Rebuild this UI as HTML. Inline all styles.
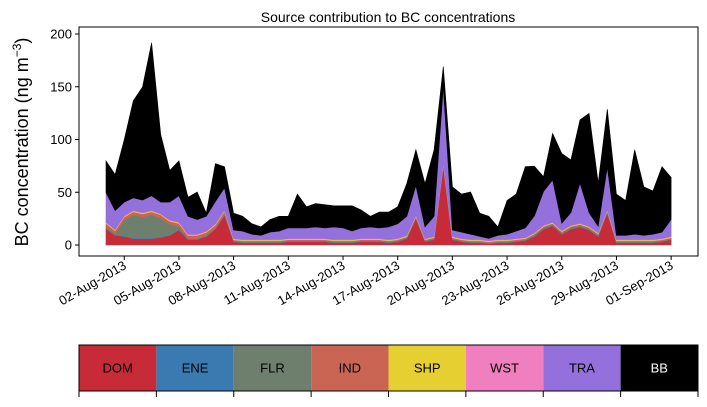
<!DOCTYPE html>
<html><head><meta charset="utf-8"><style>
body{margin:0;background:#fff;}
svg text{font-family:"Liberation Sans",sans-serif;}
</style></head><body>
<svg id="chart" width="707" height="402" xmlns="http://www.w3.org/2000/svg">
<text x="388" y="22" font-size="14" text-anchor="middle">Source contribution to BC concentrations</text>
<text transform="translate(28,142) rotate(-90)" font-size="18" text-anchor="middle">BC concentration (ng m<tspan dy="-7" font-size="12">−3</tspan><tspan dy="7">)</tspan></text>
<g id="areas"></g>
<rect x="79" y="27" width="619" height="229" fill="none" stroke="#000" stroke-width="1"/>
<g id="axes"></g>
<g id="legend"></g>
</svg>
<script>
const categories = ["DOM","ENE","FLR","IND","SHP","WST","TRA","BB"];
const colors = ["#c72b38","#3a7ab0","#6e7f6e","#c96552","#e6cf30","#f07fbf","#9370db","#000000"];
const dom = [15,9,8,6,6,6,7,9,14,5,5,8,15,28,3,2,2,2,2,2,3,3,3,3,3,2,2,2,3,3,3,2,3,6,25,3,5,75,5,3,2,2,1,2,2,3,4,8,15,18,10,15,17,14,8,30,2,2,2,2,2,3,5];
const ene = [0.5,0.5,0.5,0.5,0.5,0.5,0.5,0.5,0.5,0.5,0.5,0.5,0.5,0.5,0.5,0.5,0.5,0.5,0.5,0.5,0.5,0.5,0.5,0.5,0.5,0.5,0.5,0.5,0.5,0.5,0.5,0.5,0.5,0.5,0.5,0.5,0.5,0.5,0.5,0.5,0.5,0.5,0.5,0.5,0.5,0.5,0.5,0.5,0.5,0.5,0.5,0.5,0.5,0.5,0.5,0.5,0.5,0.5,0.5,0.5,0.5,0.5,0.5];
const flr = [2,1,15,22,20,22,18,10,3,0.5,0.5,0.5,0.5,0.5,0.5,0.5,0.5,0.5,0.5,0.5,0.5,0.5,0.5,0.5,0.5,0.5,0.5,0.5,0.5,0.5,0.5,0.5,0.5,0.5,0.5,0.5,0.5,0.5,0.5,0.5,0.5,0.5,0.5,0.5,0.5,0.5,0.5,1,1,1,1,1,1,1,1,1,0.5,0.5,0.5,0.5,0.5,0.5,0.5];
const ind = [3,3,3,3,3,3,3,3,3,3,3,3,3,3,1,1,1,1,1,1,1,1,1,1,1,1,1,1,1,1,1,1,1,1,1,1,1,1,1,1,1,1,1,1,1,1,1,1,1,1,1,1,1,1,1,1,1,1,1,1,1,1,1];
const shp = [0.7,0.7,0.7,0.7,0.7,0.7,0.7,0.7,0.7,0.7,0.7,0.7,0.7,0.7,0.7,0.7,0.7,0.7,0.7,0.7,0.7,0.7,0.7,0.7,0.7,0.7,0.7,0.7,0.7,0.7,0.7,0.7,0.7,0.7,0.7,0.7,0.7,0.7,0.7,0.7,0.7,0.7,0.7,0.7,0.7,0.7,0.7,0.7,0.7,0.7,0.7,0.7,0.7,0.7,0.7,0.7,0.7,0.7,0.7,0.7,0.7,0.7,0.7];
const wst = [0.5,0.5,0.5,0.5,0.5,0.5,0.5,0.5,0.5,0.5,0.5,0.5,0.5,0.5,0.5,0.5,0.5,0.5,0.5,0.5,0.5,0.5,0.5,0.5,0.5,0.5,0.5,0.5,0.5,0.5,0.5,0.5,0.5,0.5,0.5,0.5,0.5,0.5,0.5,0.5,0.5,0.5,0.5,0.5,0.5,0.5,0.5,0.5,0.5,0.5,0.5,0.5,0.5,0.5,0.5,0.5,0.5,0.5,0.5,0.5,0.5,0.5,0.5];
const tra = [28,18,13,12,12,14,11,17,25,17,14,14,21,21,8,8,5,4,7,8,10,10,10,11,10,12,11,8,10,11,10,12,14,18,28,11,19,72,6,6,5,3,2,4,5,7,9,16,32,40,7,12,38,13,6,40,4,4,5,4,5,6,16];
const bb = [30,34,59,92,107,145,64,30,33,18,26,3,36,20,16,14,10,8,12,14,11,32,20,22,22,20,21,24,17,10,15,14,16,31,34,41,63,19,41,36,40,22,21,8,32,35,58,47,14,44,66,50,60,94,41,55,39,33,80,46,41,62,40];
const yTicks = [0,50,100,150,200];
const xTickDays = [1,4,7,10,13,16,19,22,25,28,31];
const xTickLabels = ["02-Aug-2013","05-Aug-2013","08-Aug-2013","11-Aug-2013","14-Aug-2013","17-Aug-2013","20-Aug-2013","23-Aug-2013","26-Aug-2013","29-Aug-2013","01-Sep-2013"];
const stepDays = 0.5;

const NS="http://www.w3.org/2000/svg";
function xScale(day){return 106 + day*18.23;}
function yScale(v){return 245 - v*1.055;}
const series=[dom,ene,flr,ind,shp,wst,tra,bb];
const areas=document.getElementById('areas');
let base=dom.map(()=>0);
series.forEach((s,si)=>{
  const top=base.map((b,i)=>b+s[i]);
  let d="";
  top.forEach((v,i)=>{d+=(i?"L":"M")+xScale(i*stepDays).toFixed(1)+","+yScale(v).toFixed(1);});
  for(let i=base.length-1;i>=0;i--){d+="L"+xScale(i*stepDays).toFixed(1)+","+yScale(base[i]).toFixed(1);}
  d+="Z";
  const p=document.createElementNS(NS,'path');
  p.setAttribute('d',d);p.setAttribute('fill',colors[si]);
  p.setAttribute('stroke',colors[si]);p.setAttribute('stroke-width','0.6');
  
  
  areas.appendChild(p);
  base=top;
});
const axes=document.getElementById('axes');
yTicks.forEach(t=>{
  const y=yScale(t);
  const l=document.createElementNS(NS,'line');
  l.setAttribute('x1',75);l.setAttribute('x2',79);l.setAttribute('y1',y);l.setAttribute('y2',y);l.setAttribute('stroke','#000');
  
  
  axes.appendChild(l);
  const tx=document.createElementNS(NS,'text');
  tx.setAttribute('x',72);tx.setAttribute('y',y+4.5);tx.setAttribute('text-anchor','end');tx.setAttribute('font-size','13');
  tx.textContent=t;
  
  
  axes.appendChild(tx);
});
xTickDays.forEach((dday,i)=>{
  const x=xScale(dday);
  const l=document.createElementNS(NS,'line');
  l.setAttribute('x1',x);l.setAttribute('x2',x);l.setAttribute('y1',256);l.setAttribute('y2',260);l.setAttribute('stroke','#000');
  
  
  axes.appendChild(l);
  const tx=document.createElementNS(NS,'text');
  tx.setAttribute('transform','translate('+(x+3)+',268) rotate(-30)');
  tx.setAttribute('text-anchor','end');tx.setAttribute('font-size','13');
  tx.textContent=xTickLabels[i];
  
  
  axes.appendChild(tx);
});
const legend=document.getElementById('legend');
const lw=619/8;
categories.forEach((c,i)=>{
  const x=79+i*lw;
  const r=document.createElementNS(NS,'rect');
  r.setAttribute('x',x);r.setAttribute('y',345);r.setAttribute('width',lw);r.setAttribute('height',46);r.setAttribute('fill',colors[i]);
  
  
  legend.appendChild(r);
  const tx=document.createElementNS(NS,'text');
  tx.setAttribute('x',x+lw/2);tx.setAttribute('y',372.5);tx.setAttribute('text-anchor','middle');tx.setAttribute('font-size','13');
  tx.setAttribute('fill',c==="BB"?"#fff":"#000");
  tx.textContent=c;
  
  
  legend.appendChild(tx);
});
for(let i=0;i<=8;i++){
  const x=79+i*lw;
  const l=document.createElementNS(NS,'line');
  l.setAttribute('x1',x);l.setAttribute('x2',x);l.setAttribute('y1',391);l.setAttribute('y2',397);l.setAttribute('stroke','#000');
  
  
  legend.appendChild(l);
}
const fr=document.createElementNS(NS,'rect');
fr.setAttribute('x',79);fr.setAttribute('y',345);fr.setAttribute('width',619);fr.setAttribute('height',46);fr.setAttribute('fill','none');fr.setAttribute('stroke','#000');


legend.appendChild(fr);
</script>
</body></html>
